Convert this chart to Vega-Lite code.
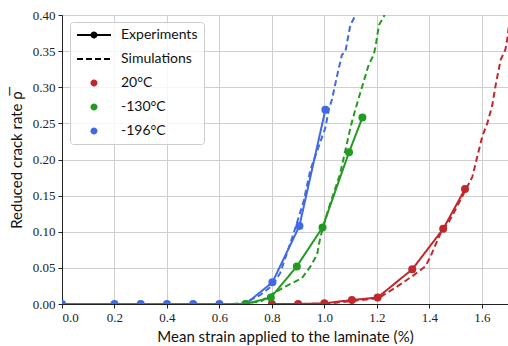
{
  "$schema": "https://vega.github.io/schema/vega-lite/v6.json",
  "width": 446,
  "height": 289,
  "autosize": {"type": "none"},
  "padding": {"left": 62, "top": 15, "right": 0, "bottom": 42},
  "background": "white",
  "config": {
    "view": {"stroke": "#222222", "strokeWidth": 1},
    "axis": {
      "labelFont": "Liberation Serif, serif",
      "labelFontSize": 13,
      "labelColor": "#222222",
      "titleFont": "Lato",
      "titleFontSize": 15,
      "titleFontWeight": "normal",
      "titleColor": "#111111",
      "domainColor": "#222222",
      "tickColor": "#222222",
      "tickSize": 4,
      "labelPadding": 3,
      "gridColor": "#cfcfcf",
      "gridWidth": 1
    }
  },
  "data": {
    "values": [
      {"t": "20°C", "k": "Experiments", "x": 0.8, "y": 0.0},
      {"t": "20°C", "k": "Experiments", "x": 0.9, "y": 0.0},
      {"t": "20°C", "k": "Experiments", "x": 1.0, "y": 0.001},
      {"t": "20°C", "k": "Experiments", "x": 1.105, "y": 0.0055},
      {"t": "20°C", "k": "Experiments", "x": 1.203, "y": 0.009},
      {"t": "20°C", "k": "Experiments", "x": 1.335, "y": 0.048},
      {"t": "20°C", "k": "Experiments", "x": 1.453, "y": 0.104},
      {"t": "20°C", "k": "Experiments", "x": 1.536, "y": 0.159},
      {"t": "-196°C", "k": "Experiments", "x": 0.0, "y": 0.0},
      {"t": "-196°C", "k": "Experiments", "x": 0.2, "y": 0.0},
      {"t": "-196°C", "k": "Experiments", "x": 0.3, "y": 0.0},
      {"t": "-196°C", "k": "Experiments", "x": 0.4, "y": 0.0},
      {"t": "-196°C", "k": "Experiments", "x": 0.5, "y": 0.0},
      {"t": "-196°C", "k": "Experiments", "x": 0.6, "y": 0.0},
      {"t": "-196°C", "k": "Experiments", "x": 0.7, "y": 0.0},
      {"t": "-196°C", "k": "Experiments", "x": 0.802, "y": 0.03},
      {"t": "-196°C", "k": "Experiments", "x": 0.905, "y": 0.108},
      {"t": "-196°C", "k": "Experiments", "x": 1.004, "y": 0.269},
      {"t": "-130°C", "k": "Experiments", "x": 0.7, "y": 0.0},
      {"t": "-130°C", "k": "Experiments", "x": 0.796, "y": 0.009},
      {"t": "-130°C", "k": "Experiments", "x": 0.895, "y": 0.052},
      {"t": "-130°C", "k": "Experiments", "x": 0.993, "y": 0.106},
      {"t": "-130°C", "k": "Experiments", "x": 1.094, "y": 0.21},
      {"t": "-130°C", "k": "Experiments", "x": 1.145, "y": 0.258},
      {"t": "20°C", "k": "Simulations", "x": 1.0, "y": 0.0},
      {"t": "20°C", "k": "Simulations", "x": 1.1, "y": 0.004},
      {"t": "20°C", "k": "Simulations", "x": 1.207, "y": 0.008},
      {"t": "20°C", "k": "Simulations", "x": 1.226, "y": 0.0125},
      {"t": "20°C", "k": "Simulations", "x": 1.277, "y": 0.024},
      {"t": "20°C", "k": "Simulations", "x": 1.341, "y": 0.04},
      {"t": "20°C", "k": "Simulations", "x": 1.385, "y": 0.052},
      {"t": "20°C", "k": "Simulations", "x": 1.405, "y": 0.066},
      {"t": "20°C", "k": "Simulations", "x": 1.443, "y": 0.098},
      {"t": "20°C", "k": "Simulations", "x": 1.475, "y": 0.114},
      {"t": "20°C", "k": "Simulations", "x": 1.506, "y": 0.135},
      {"t": "20°C", "k": "Simulations", "x": 1.564, "y": 0.176},
      {"t": "20°C", "k": "Simulations", "x": 1.583, "y": 0.204},
      {"t": "20°C", "k": "Simulations", "x": 1.602, "y": 0.232},
      {"t": "20°C", "k": "Simulations", "x": 1.621, "y": 0.25},
      {"t": "20°C", "k": "Simulations", "x": 1.64, "y": 0.275},
      {"t": "20°C", "k": "Simulations", "x": 1.653, "y": 0.303},
      {"t": "20°C", "k": "Simulations", "x": 1.672, "y": 0.338},
      {"t": "20°C", "k": "Simulations", "x": 1.69, "y": 0.352},
      {"t": "20°C", "k": "Simulations", "x": 1.697, "y": 0.366},
      {"t": "20°C", "k": "Simulations", "x": 1.704, "y": 0.386},
      {"t": "20°C", "k": "Simulations", "x": 1.712, "y": 0.41},
      {"t": "-130°C", "k": "Simulations", "x": 0.65, "y": 0.0},
      {"t": "-130°C", "k": "Simulations", "x": 0.756, "y": 0.003},
      {"t": "-130°C", "k": "Simulations", "x": 0.806, "y": 0.015},
      {"t": "-130°C", "k": "Simulations", "x": 0.851, "y": 0.024},
      {"t": "-130°C", "k": "Simulations", "x": 0.915, "y": 0.036},
      {"t": "-130°C", "k": "Simulations", "x": 0.947, "y": 0.052},
      {"t": "-130°C", "k": "Simulations", "x": 0.972, "y": 0.068},
      {"t": "-130°C", "k": "Simulations", "x": 0.985, "y": 0.093},
      {"t": "-130°C", "k": "Simulations", "x": 1.016, "y": 0.132},
      {"t": "-130°C", "k": "Simulations", "x": 1.06, "y": 0.18},
      {"t": "-130°C", "k": "Simulations", "x": 1.1, "y": 0.245},
      {"t": "-130°C", "k": "Simulations", "x": 1.118, "y": 0.269},
      {"t": "-130°C", "k": "Simulations", "x": 1.131, "y": 0.285},
      {"t": "-130°C", "k": "Simulations", "x": 1.15, "y": 0.308},
      {"t": "-130°C", "k": "Simulations", "x": 1.169, "y": 0.331},
      {"t": "-130°C", "k": "Simulations", "x": 1.188, "y": 0.345},
      {"t": "-130°C", "k": "Simulations", "x": 1.195, "y": 0.356},
      {"t": "-130°C", "k": "Simulations", "x": 1.208, "y": 0.386},
      {"t": "-130°C", "k": "Simulations", "x": 1.227, "y": 0.398},
      {"t": "-130°C", "k": "Simulations", "x": 1.235, "y": 0.41},
      {"t": "-196°C", "k": "Simulations", "x": 0.68, "y": 0.0},
      {"t": "-196°C", "k": "Simulations", "x": 0.705, "y": 0.003},
      {"t": "-196°C", "k": "Simulations", "x": 0.756, "y": 0.0125},
      {"t": "-196°C", "k": "Simulations", "x": 0.8, "y": 0.025},
      {"t": "-196°C", "k": "Simulations", "x": 0.832, "y": 0.043},
      {"t": "-196°C", "k": "Simulations", "x": 0.883, "y": 0.098},
      {"t": "-196°C", "k": "Simulations", "x": 0.921, "y": 0.142},
      {"t": "-196°C", "k": "Simulations", "x": 0.947, "y": 0.186},
      {"t": "-196°C", "k": "Simulations", "x": 1.004, "y": 0.244},
      {"t": "-196°C", "k": "Simulations", "x": 1.017, "y": 0.269},
      {"t": "-196°C", "k": "Simulations", "x": 1.029, "y": 0.283},
      {"t": "-196°C", "k": "Simulations", "x": 1.048, "y": 0.315},
      {"t": "-196°C", "k": "Simulations", "x": 1.067, "y": 0.345},
      {"t": "-196°C", "k": "Simulations", "x": 1.08, "y": 0.349},
      {"t": "-196°C", "k": "Simulations", "x": 1.099, "y": 0.386},
      {"t": "-196°C", "k": "Simulations", "x": 1.118, "y": 0.399},
      {"t": "-196°C", "k": "Simulations", "x": 1.125, "y": 0.41}
    ]
  },
  "encoding": {
    "x": {
      "field": "x",
      "type": "quantitative",
      "scale": {"domain": [0, 1.7], "nice": false},
      "axis": {
        "values": [0, 0.2, 0.4, 0.6, 0.8, 1.0, 1.2, 1.4, 1.6],
        "format": ".1f",
        "title": "Mean strain applied to the laminate (%)",
        "titlePadding": 5
      }
    },
    "y": {
      "field": "y",
      "type": "quantitative",
      "scale": {"domain": [0, 0.4], "nice": false},
      "axis": {
        "values": [0, 0.05, 0.1, 0.15, 0.2, 0.25, 0.3, 0.35, 0.4],
        "format": ".2f",
        "title": "Reduced crack rate ρ̅",
        "titlePadding": 8
      }
    },
    "color": {
      "field": "t",
      "type": "nominal",
      "scale": {
        "domain": ["Experiments", "Simulations", "20°C", "-130°C", "-196°C"],
        "range": ["#000000", "#000000", "#c0282d", "#239b23", "#4169e1"]
      },
      "legend": {
        "title": null,
        "orient": "none",
        "legendX": 8,
        "legendY": 7,
        "fillColor": "rgba(255,255,255,0.8)",
        "strokeColor": "#cccccc",
        "cornerRadius": 3,
        "padding": 6,
        "rowPadding": 10,
        "symbolSize": 100,
        "labelOffset": 31,
        "labelFont": "Lato",
        "labelFontSize": 14,
        "labelColor": "#111111",
        "labelLimit": 200,
        "encode": {
          "symbols": {
            "update": {
              "shape": {"signal": "datum.value === 'Experiments' ? 'M-1.2,0H5.6M1.7,0A0.5,0.5,0,1,1,2.7,0A0.5,0.5,0,1,1,1.7,0' : datum.value === 'Simulations' ? 'M-1.2,0H5.6' : 'M1.7,0A0.5,0.5,0,1,1,2.7,0A0.5,0.5,0,1,1,1.7,0'"},
              "fill": {"signal": "datum.value === 'Simulations' ? 'transparent' : scale('color', datum.value)"},
              "stroke": {"signal": "scale('color', datum.value)"},
              "strokeWidth": {"value": 2},
              "strokeDash": {"signal": "datum.value === 'Simulations' ? [6, 3] : [1, 0]"},
              "opacity": {"value": 1}
            }
          }
        }
      }
    }
  },
  "layer": [
    {
      "mark": {"type": "line", "strokeWidth": 2, "clip": true},
      "encoding": {
        "strokeDash": {
          "field": "k",
          "type": "nominal",
          "scale": {"domain": ["Experiments", "Simulations"], "range": [[1, 0], [6, 3.5]]},
          "legend": null
        }
      }
    },
    {
      "transform": [{"filter": "datum.k === 'Experiments'"}],
      "mark": {"type": "point", "filled": true, "size": 64, "opacity": 1, "clip": true}
    }
  ]
}
